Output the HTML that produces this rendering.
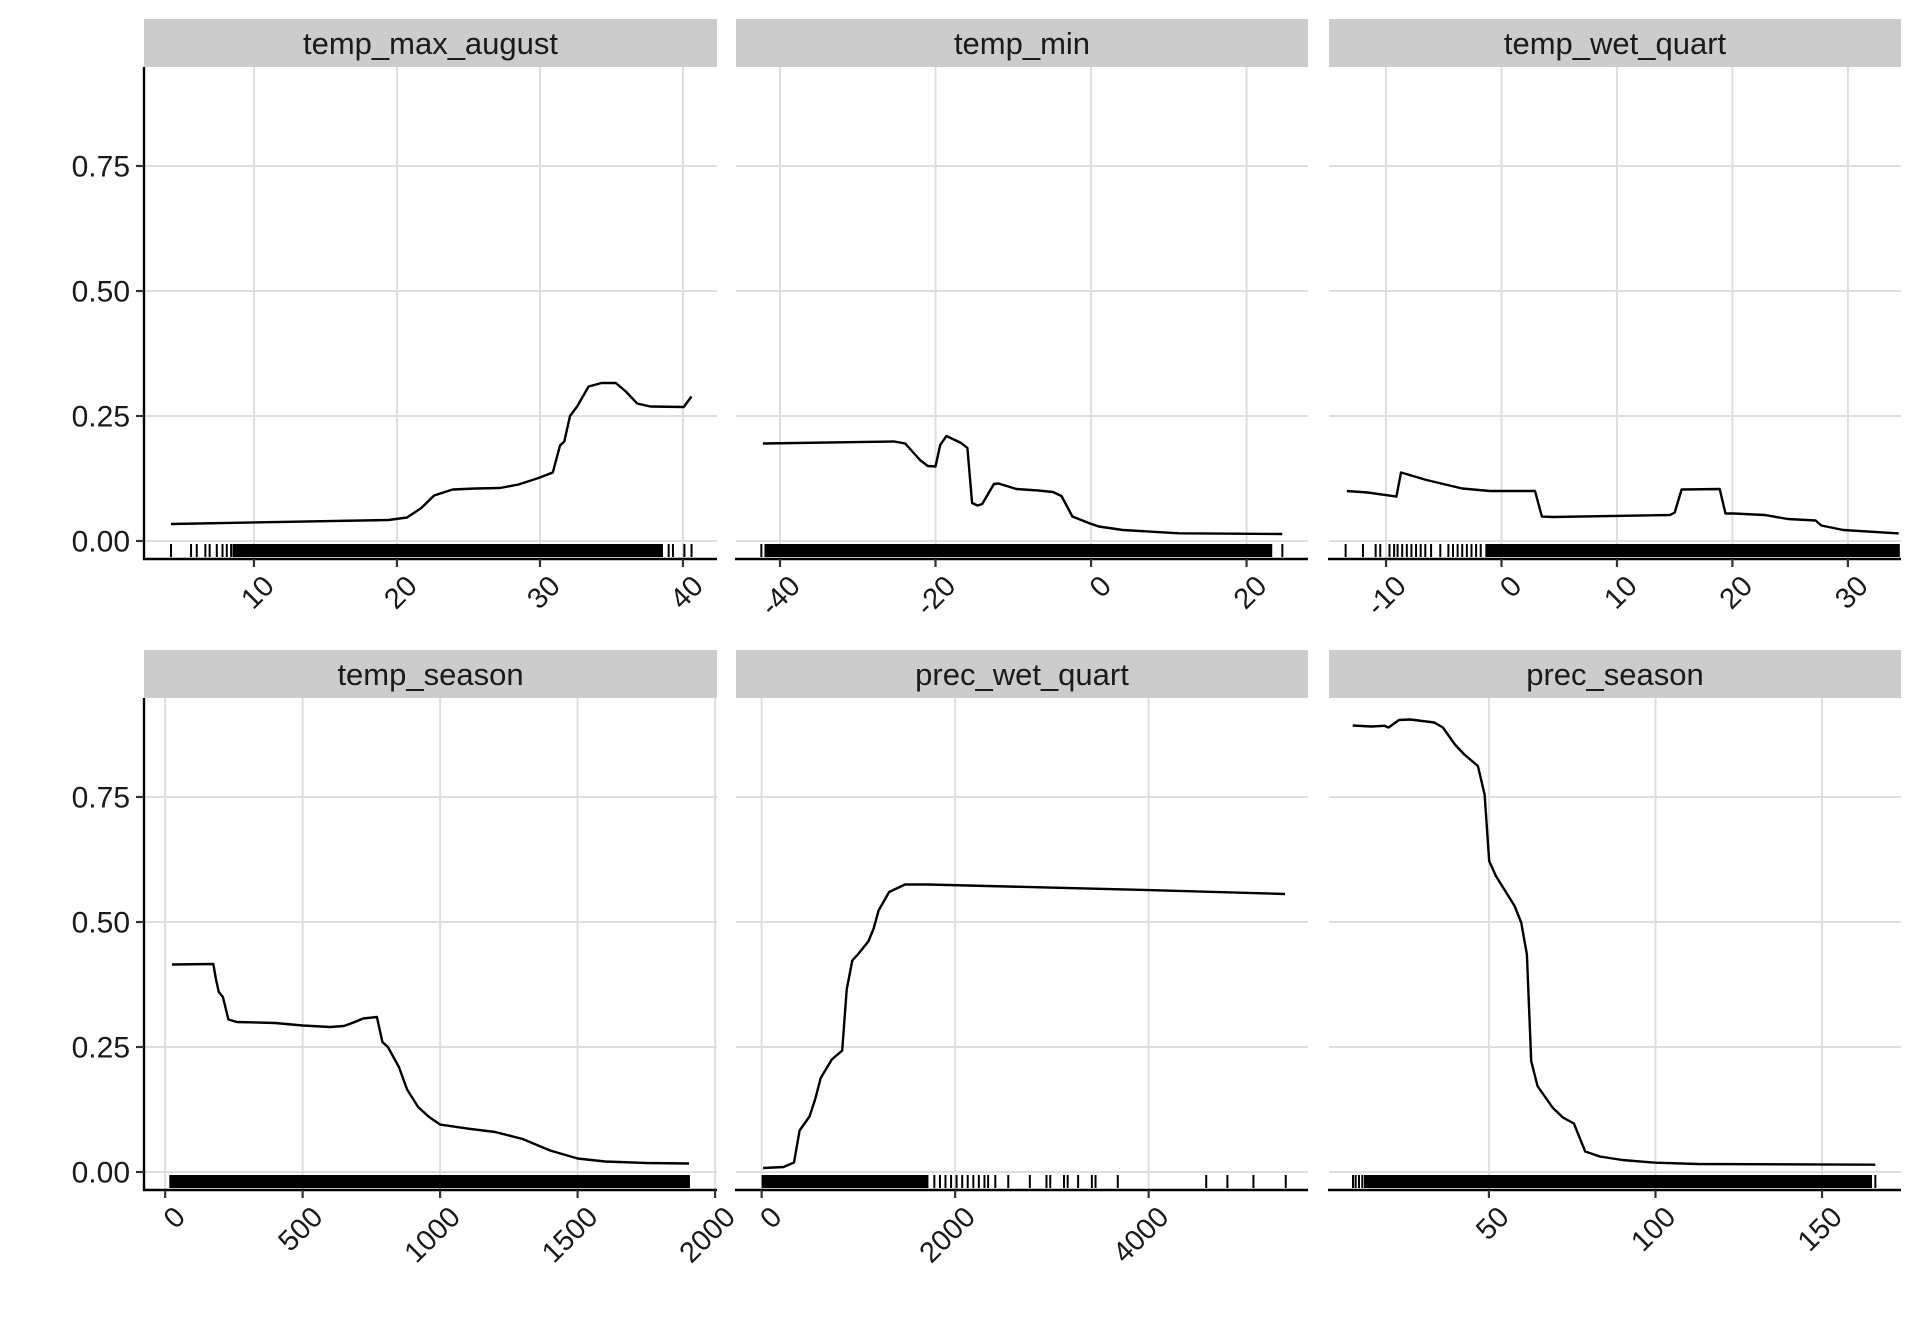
<!DOCTYPE html>
<html><head><meta charset="utf-8"><style>
html,body{margin:0;padding:0;background:#fff;}
svg{display:block;font-family:"Liberation Sans",Arial,sans-serif;}
</style></head><body>
<svg id="chart" width="1920" height="1344" viewBox="0 0 1920 1344" xmlns="http://www.w3.org/2000/svg"></svg>
<script>
// ---- data ----
const yTicks = [0, 0.25, 0.5, 0.75];
const yTickLabels = ["0.00", "0.25", "0.50", "0.75"];

const tmaxX = [4.2,19.4,20.7,21.7,22.6,23.9,25.5,27.2,28.5,29.9,30.9,31.4,31.7,32.1,32.6,33.4,34.3,35.3,36.0,36.8,37.7,40.05,40.6];
const tmaxY = [0.034,0.042,0.047,0.066,0.091,0.103,0.105,0.106,0.113,0.126,0.137,0.191,0.199,0.25,0.269,0.309,0.316,0.316,0.299,0.275,0.269,0.268,0.289];
const tmaxTicks = [10,20,30,40];
const tmaxRugSparse = [4.2,5.6,6.0,6.6,6.9,7.4,7.8,8.1,8.4,39.0,39.3,40.1,40.6];
const tmaxRugDense = [8.5,38.6];

const tminX = [-42.2,-25.3,-23.9,-22,-21,-20,-19.4,-18.6,-16.7,-15.9,-15.3,-14.6,-14,-12.5,-11.9,-9.6,-6.8,-4.9,-3.8,-2.4,-0.14,1,4.1,11.3,24.6];
const tminY = [0.195,0.199,0.195,0.162,0.15,0.149,0.192,0.21,0.196,0.186,0.076,0.071,0.074,0.114,0.115,0.104,0.101,0.098,0.09,0.049,0.035,0.029,0.022,0.0154,0.014];
const tminTicks = [-40,-20,0,20];
const tminRugSparse = [-42.4,24.6];
const tminRugDense = [-42.0,23.3];

const twetX = [-13.4,-11.6,-9.1,-8.7,-6.5,-3.4,-1.0,2.9,3.5,4.4,14.6,15.0,15.6,18.9,19.4,20.1,22.8,24.8,27.2,27.7,29.6,34.4];
const twetY = [0.1,0.097,0.0887,0.137,0.122,0.105,0.1,0.1,0.0487,0.048,0.052,0.057,0.103,0.104,0.055,0.055,0.052,0.044,0.041,0.031,0.022,0.0153];
const twetTicks = [-10,0,10,20,30];
const twetRugSparse = [-13.5,-12,-10.9,-10.5,-9.7,-9.3,-9.0,-8.6,-8.2,-7.8,-7.4,-7.0,-6.6,-6.1,-5.3,-4.6,-4.2,-3.8,-3.4,-3.0,-2.6,-2.2,-1.8];
const twetRugDense = [-1.4,34.5];

const tseaX = [25,175,185,195,210,230,260,400,500,600,650,690,720,770,790,810,850,880,920,960,1000,1100,1200,1300,1400,1500,1600,1750,1905];
const tseaY = [0.415,0.416,0.385,0.36,0.35,0.305,0.3,0.298,0.293,0.29,0.292,0.3,0.307,0.31,0.26,0.25,0.21,0.165,0.13,0.11,0.095,0.087,0.08,0.066,0.043,0.027,0.021,0.018,0.017];
const tseaTicks = [0,500,1000,1500,2000];
const tseaRugSparse = [1905];
const tseaRugDense = [15,1905];

const pwetX = [15,226,334,392,495,553,610,725,833,879,937,994,1102,1156,1209,1317,1482,1724,4000,5409];
const pwetY = [0.008,0.01,0.019,0.083,0.111,0.145,0.188,0.225,0.243,0.365,0.423,0.435,0.461,0.486,0.523,0.56,0.575,0.575,0.5637,0.556];
const pwetTicks = [0,2000,4000];
const pwetRugSparse = [1785,1843,1900,1958,2015,2073,2130,2188,2245,2303,2341,2415,2549,2772,2944,2983,3125,3163,3271,3413,3451,3681,4595,4814,5083,5417];
const pwetRugDense = [0,1724];

const pseaX = [9.1,14.7,18.6,19.9,23.0,26.4,33.6,36.2,39.8,42.6,46.7,48.7,50.1,52.1,57.7,59.7,61.4,62.7,64.6,69.1,72.2,75.5,78.9,83.3,90,100,112.6,166];
const pseaY = [0.893,0.891,0.8925,0.889,0.904,0.905,0.899,0.889,0.855,0.835,0.812,0.755,0.622,0.592,0.532,0.499,0.435,0.222,0.172,0.129,0.109,0.097,0.041,0.031,0.024,0.0187,0.016,0.0147];
const pseaTicks = [50,100,150];
const pseaRugSparse = [9.2,10.0,11.0,12.0,166];
const pseaRugDense = [12.5,165];

// ---- layout ----
const NS = "http://www.w3.org/2000/svg";
const svg = document.getElementById("chart");
const cols = [[144,717],[736,1308],[1329,1901]];
const rows = [{s0:19,s1:67,p0:67,p1:559},{s0:650,s1:698,p0:698,p1:1190}];
const yDom = [-0.036, 0.948];

const panels = [
 {name:"temp_max_august", c:0, r:0, dom:[2.31,42.38], xs:tmaxX, ys:tmaxY, ticks:tmaxTicks, rs:tmaxRugSparse, rd:tmaxRugDense},
 {name:"temp_min", c:1, r:0, dom:[-45.66,27.9], xs:tminX, ys:tminY, ticks:tminTicks, rs:tminRugSparse, rd:tminRugDense},
 {name:"temp_wet_quart", c:2, r:0, dom:[-14.94,34.6], xs:twetX, ys:twetY, ticks:twetTicks, rs:twetRugSparse, rd:twetRugDense},
 {name:"temp_season", c:0, r:1, dom:[-77,2007], xs:tseaX, ys:tseaY, ticks:tseaTicks, rs:tseaRugSparse, rd:tseaRugDense},
 {name:"prec_wet_quart", c:1, r:1, dom:[-265,5647], xs:pwetX, ys:pwetY, ticks:pwetTicks, rs:pwetRugSparse, rd:pwetRugDense},
 {name:"prec_season", c:2, r:1, dom:[2,173.7], xs:pseaX, ys:pseaY, ticks:pseaTicks, rs:pseaRugSparse, rd:pseaRugDense}
];

function mk(tag, attrs, parent){
  const e = document.createElementNS(NS, tag);
  for (const k in attrs) e.setAttribute(k, attrs[k]);
  (parent||svg).appendChild(e);
  return e;
}

panels.forEach(p => {
  const [x0,x1] = cols[p.c];
  const R = rows[p.r];
  const sx = v => x0 + (v - p.dom[0]) / (p.dom[1]-p.dom[0]) * (x1-x0);
  const sy = v => R.p1 - (v - yDom[0]) / (yDom[1]-yDom[0]) * (R.p1-R.p0);
  const g = mk("g", {});
  
  

  // strip
  const strip = mk("rect", {x:x0, y:R.s0, width:x1-x0, height:R.s1-R.s0, fill:"#cccccc"}, g);
  
  
  const st = mk("text", {x:(x0+x1)/2, y:(R.s0+R.s1)/2+11, "text-anchor":"middle", "font-size":"31", fill:"#1a1a1a"}, g);
  
  
  st.textContent = p.name;

  // gridlines
  yTicks.forEach(t => {
    const l = mk("line", {x1:x0, x2:x1, y1:sy(t), y2:sy(t), stroke:"#dedede", "stroke-width":2}, g);
    
    
  });
  p.ticks.forEach(t => {
    const l = mk("line", {x1:sx(t), x2:sx(t), y1:R.p0, y2:R.p1, stroke:"#dedede", "stroke-width":2}, g);
    
    
  });

  // rug
  const rugTop = sy(0) + 3, rugBot = R.p1 - 2;
  const rd = mk("rect", {x:sx(p.rd[0]), y:rugTop, width:sx(p.rd[1])-sx(p.rd[0]), height:rugBot-rugTop, fill:"#000"}, g);
  
  
  p.rs.forEach(v => {
    const l = mk("line", {x1:sx(v), x2:sx(v), y1:rugTop, y2:rugBot, stroke:"#000", "stroke-width":2}, g);
    
    
  });

  // line
  const d = p.xs.map((x,i) => (i?"L":"M") + sx(x).toFixed(1) + "," + sy(p.ys[i]).toFixed(1)).join(" ");
  const path = mk("path", {d:d, fill:"none", stroke:"#000", "stroke-width":2.4, "stroke-linejoin":"round"}, g);
  
  

  // x axis
  const xa = mk("line", {x1:x0-1, x2:x1, y1:R.p1, y2:R.p1, stroke:"#000", "stroke-width":2.4}, g);
  
  
  p.ticks.forEach(t => {
    const tk = mk("line", {x1:sx(t), x2:sx(t), y1:R.p1, y2:R.p1+8, stroke:"#333", "stroke-width":2.2}, g);
    
    
    const tl = mk("text", {transform:"translate(" + (sx(t)+7).toFixed(1) + "," + (R.p1+14) + ") rotate(-45)", "text-anchor":"end", dy:"0.72em", "font-size":"29", fill:"#1a1a1a"}, g);
    
    
    tl.textContent = String(t);
  });

  // y axis (left column only)
  if (p.c === 0) {
    const ya = mk("line", {x1:x0, x2:x0, y1:R.p0, y2:R.p1+1, stroke:"#000", "stroke-width":2.4}, g);
    
    
    yTicks.forEach((t,i) => {
      const tk = mk("line", {x1:x0-8, x2:x0, y1:sy(t), y2:sy(t), stroke:"#333", "stroke-width":2.2}, g);
      
      
      const tl = mk("text", {x:x0-14, y:sy(t)+10.5, "text-anchor":"end", "font-size":"30", fill:"#1a1a1a"}, g);
      
      
      tl.textContent = yTickLabels[i];
    });
  }
});
</script>
</body></html>
